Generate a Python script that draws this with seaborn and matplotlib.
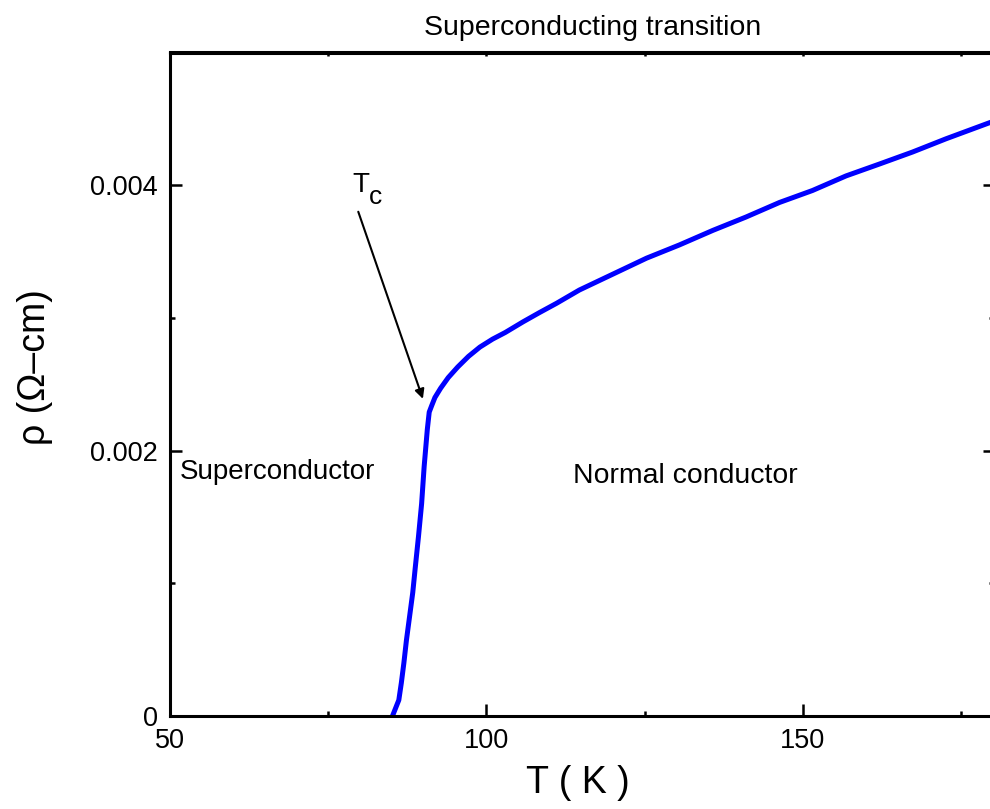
import matplotlib
matplotlib.use("Agg")
import matplotlib.pyplot as plt
from matplotlib.ticker import FixedLocator, NullFormatter
import seaborn as sns
import pandas as pd

# ---- data ----
temperature_K = [85.2, 86.2, 86.6, 87.0, 87.4, 87.9, 88.4, 88.8, 89.3, 89.8,
                 90.2, 90.7, 91.0, 91.4, 91.9, 92.8, 94.0, 95.5, 97.2, 99.0,
                 101.0, 103.0, 105.8, 108.4, 111.1, 114.7, 120.0, 125.3, 130.5,
                 135.8, 141.0, 146.3, 151.5, 156.8, 162.1, 167.3, 172.6, 179.4, 180.0]
resistivity = [0.0, 0.00012, 0.00025, 0.00040, 0.00057, 0.00075, 0.00093, 0.00112,
               0.00135, 0.00160, 0.00188, 0.00216, 0.00229, 0.00234, 0.00240,
               0.00247, 0.00255, 0.00263, 0.00271, 0.00278, 0.00284, 0.00289,
               0.00297, 0.00304, 0.00311, 0.00321, 0.00333, 0.00345, 0.00355,
               0.00366, 0.00376, 0.00387, 0.00396, 0.00407, 0.00416, 0.00425,
               0.00435, 0.00447, 0.00448]
x_ticks = [50, 100, 150]
x_tick_labels = ["50", "100", "150"]
y_ticks = [0, 0.002, 0.004]
y_tick_labels = ["0", "0.002", "0.004"]

title_text = "Superconducting transition"
x_label = "T ( K )"
y_label = "ρ (Ω–cm)"
region_labels = ["Superconductor", "Normal conductor"]
tc_main, tc_sub = "T", "c"

df = pd.DataFrame({"T": temperature_K, "rho": resistivity})

sns.set_style("ticks")
plt.rcParams["font.family"] = ["Liberation Sans", "DejaVu Sans"]
for key in ["text.color", "axes.labelcolor", "xtick.color", "ytick.color",
            "axes.edgecolor"]:
    plt.rcParams[key] = "black"

W, H = 990, 809
fig = plt.figure(figsize=(W / 100, H / 100), dpi=100)
left_px, right_px, top_px, bottom_px = 169.5, 993, 52.5, 716
ax = fig.add_axes([left_px / W, 1 - bottom_px / H,
                   (right_px - left_px) / W, (bottom_px - top_px) / H])

sns.lineplot(data=df, x="T", y="rho", ax=ax, color="#0000FF", linewidth=3.6,
             estimator=None, sort=False)

ax.set_xlim(50, 180)
ax.set_ylim(0, 0.005)

spine_w = 2.2
for s in ax.spines.values():
    s.set_linewidth(spine_w)
    s.set_color("black")
    s.set_visible(True)

ax.xaxis.set_major_locator(FixedLocator(x_ticks))
ax.set_xticklabels(x_tick_labels)
ax.xaxis.set_minor_locator(FixedLocator([75, 125, 175]))
ax.yaxis.set_major_locator(FixedLocator(y_ticks))
ax.set_yticklabels(y_tick_labels)
ax.yaxis.set_minor_locator(FixedLocator([0.001, 0.003]))

px = 0.72  # points per pixel at dpi 100
ax.tick_params(which="major", direction="in", length=12 * px, width=1.8,
               labelsize=19.5, pad=12 * px, top=False, right=False, colors="black")
ax.tick_params(which="minor", direction="in", length=5 * px, width=1.8,
               top=False, right=False)

# top ticks
sec_x = ax.secondary_xaxis("top")
sec_x.xaxis.set_major_locator(FixedLocator([50, 75, 100, 125, 150, 175]))
sec_x.xaxis.set_major_formatter(NullFormatter())
sec_x.tick_params(which="major", direction="in", length=4 * px, width=1.8)
sec_x.spines["top"].set_linewidth(spine_w)

# right ticks
sec_y = ax.secondary_yaxis("right")
sec_y.yaxis.set_major_locator(FixedLocator(y_ticks))
sec_y.yaxis.set_major_formatter(NullFormatter())
sec_y.yaxis.set_minor_locator(FixedLocator([0.001, 0.003]))
sec_y.tick_params(which="major", direction="in", length=10 * px, width=1.8)
sec_y.tick_params(which="minor", direction="in", length=4 * px, width=1.8)
sec_y.spines["right"].set_linewidth(spine_w)

ax.set_xlabel(x_label, fontsize=27)
ax.set_ylabel(y_label, fontsize=27)
ax.xaxis.set_label_coords((578 - left_px) / (right_px - left_px),
                          (bottom_px - 765) / (bottom_px - top_px))
ax.yaxis.set_label_coords((53 - left_px) / (right_px - left_px),
                          (bottom_px - 367) / (bottom_px - top_px))

ax.text(51.66, 0.001789, region_labels[0], fontsize=20, va="baseline", ha="left")
ax.text(113.65, 0.001758, region_labels[1], fontsize=20.4, va="baseline", ha="left")
ax.text(78.94, 0.003947, tc_main, fontsize=20, va="baseline", ha="left")
ax.text(81.45, 0.003856, tc_sub, fontsize=19, va="baseline", ha="left")

ax.annotate("", xy=(90.0, 0.00239), xytext=(79.8, 0.0038),
            arrowprops=dict(arrowstyle="-|>", color="black", lw=1.5,
                            mutation_scale=14, shrinkA=0, shrinkB=0))

fig.text(593 / W, 1 - 35 / H, title_text, fontsize=20.5, ha="center", va="baseline")

fig.savefig("out.png", dpi=100)
